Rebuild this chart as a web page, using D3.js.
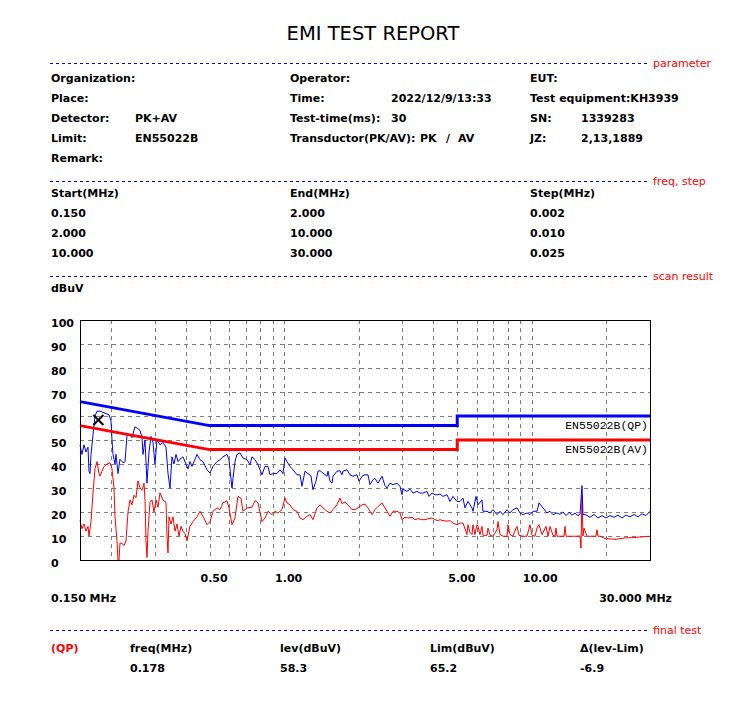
<!DOCTYPE html>
<html><head><meta charset="utf-8">
<script src="https://cdn.jsdelivr.net/npm/d3@7"></script>
<style>body{margin:0;background:#fff}svg{display:block}</style>
</head><body>
<svg id="chart" width="750" height="704"></svg>
<script>
// ---------- data ----------
const qpScan = [[0.15,48],[0.15281,44],[0.15568,48],[0.1586,45],[0.16158,47],[0.16309,37],[0.16461,36],[0.16615,44],[0.16927,52],[0.17244,60],[0.17568,62],[0.18065,62],[0.18575,61.5],[0.19101,61],[0.19641,60.5],[0.20009,58],[0.20196,50],[0.20385,44],[0.20575,42],[0.20767,40],[0.20961,44],[0.21355,36],[0.21755,42],[0.22164,41],[0.22579,40.5],[0.2279,41],[0.23218,52],[0.23875,52],[0.24322,51],[0.2501,55.5],[0.2548,55],[0.262,54],[0.26692,51],[0.26941,44],[0.27447,50],[0.27961,32],[0.28486,45],[0.29021,51.5],[0.29565,49],[0.3012,40],[0.30685,50],[0.31553,48],[0.32445,49],[0.33363,47],[0.33989,36],[0.34627,30],[0.35276,43],[0.35938,40],[0.36613,44],[0.373,41],[0.38,42],[0.39074,43],[0.40179,40],[0.40933,38],[0.41701,41],[0.42483,39],[0.43685,42],[0.44505,44],[0.45763,41.8],[0.47057,41],[0.4884,37.6],[0.50221,36.2],[0.51641,39],[0.53597,41],[0.55113,41.8],[0.56671,43],[0.58818,44],[0.59922,41.8],[0.61616,30],[0.62192,34],[0.63358,41],[0.64547,44],[0.66373,44.6],[0.68249,42.5],[0.70835,41.8],[0.72838,39.7],[0.74205,43],[0.76303,41.8],[0.78461,39.7],[0.81433,35.5],[0.83736,39],[0.86103,39],[0.87719,35.5],[0.902,36],[0.93616,36],[0.96264,37.6],[0.98986,36],[1.00843,42.5],[1.02735,41],[1.05641,39],[1.08628,37.6],[1.12743,35.5],[1.15931,35.5],[1.18107,30.7],[1.21446,37],[1.24881,36],[1.28412,35],[1.30821,29.3],[1.34521,32.8],[1.37045,37],[1.39616,37.2],[1.43564,36.2],[1.49003,34.9],[1.50394,37],[1.5322,32.8],[1.5609,32],[1.5755,34.9],[1.6352,37],[1.6814,37.2],[1.713,35.5],[1.729,37],[1.7945,37.6],[1.8452,35.5],[1.8974,34.9],[1.9693,35.5],[2.0062,32.8],[2.063,34.9],[2.1213,35.5],[2.1812,35.5],[2.2222,31.4],[2.285,33.5],[2.3279,34],[2.3937,32],[2.4844,34.9],[2.5547,31],[2.6026,30],[2.6762,32],[2.7519,31.4],[2.8561,32],[2.9369,30.7],[2.992,27.2],[3.02,29.5],[3.1343,28.6],[3.223,29.5],[3.3141,27.9],[3.4397,28.6],[3.5369,27.9],[3.6369,27.9],[3.7747,28.6],[3.8455,26.5],[3.9543,27.9],[4.0661,27.2],[4.1811,27.2],[4.2595,27.5],[4.38,26.5],[4.5459,27.2],[4.6744,24.4],[4.8066,26.5],[4.9887,24.4],[5.1298,24.4],[5.2748,25.8],[5.3738,21.7],[5.5258,24.4],[5.7351,21.7],[5.7886,20.3],[5.9523,26.5],[6.064,23],[6.2938,25],[6.3525,20.3],[6.5932,20.3],[6.7796,19.6],[6.9713,21],[7.2354,18.9],[7.44,20.3],[7.6504,18.9],[7.9402,21],[8.1648,19.6],[8.3955,21],[8.7136,21.7],[8.96,19.6],[9.2134,18.9],[9.5624,19.6],[9.8329,18.9],[10.111,20.3],[10.494,20.3],[10.691,23.8],[11.096,21.7],[11.516,19.6],[11.842,20.3],[12.177,18.9],[12.638,19.6],[12.995,19],[13.363,20],[13.741,18.5],[14.129,19.8],[14.529,18.7],[14.94,19.5],[15.362,18.5],[15.65,19],[15.944,31],[16.093,19],[16.548,18.8],[17.175,17.8],[17.826,19],[18.501,17.5],[19.202,18.5],[19.929,17.5],[20.684,18.5],[21.467,17.8],[22.281,18.7],[23.125,17.5],[24.0,18.7],[24.91,18],[25.853,19],[26.833,18],[27.849,19.2],[28.904,18.5],[30,20.3]];

const avScan = [[0.15,16.5],[0.15281,13],[0.15568,15],[0.1586,12],[0.16158,14],[0.16309,10],[0.16615,16],[0.16927,28],[0.17244,38],[0.17568,41],[0.17897,36],[0.18065,35],[0.18404,37],[0.18749,39],[0.19279,40],[0.19824,40.5],[0.20196,38],[0.20575,30],[0.20767,18],[0.21157,8],[0.21355,0],[0.21554,0],[0.21755,7],[0.22164,7],[0.22579,6],[0.23003,8],[0.23435,20],[0.23875,25],[0.24322,23],[0.24779,27],[0.25244,26],[0.25718,33],[0.262,30],[0.26692,29],[0.27193,32],[0.27447,25],[0.27703,8],[0.27961,1],[0.28222,12],[0.28752,24],[0.29292,25],[0.29842,20],[0.30402,25],[0.30972,22],[0.31553,28],[0.32445,25],[0.33363,24],[0.33674,10],[0.33989,3],[0.34306,18],[0.3495,15],[0.35606,18],[0.36274,12],[0.36954,15],[0.37648,10],[0.38354,14],[0.39074,12],[0.39807,11],[0.40554,8],[0.41701,14],[0.4288,16],[0.44505,18],[0.45763,20.3],[0.47057,18.2],[0.4884,14.7],[0.50221,16],[0.51641,20.3],[0.53597,21.7],[0.55113,21],[0.56671,23.8],[0.58818,24.7],[0.59922,21.7],[0.61616,14.7],[0.63358,17.5],[0.6515,26.5],[0.66992,25.8],[0.68249,20.3],[0.70835,21.7],[0.74205,22],[0.76303,24.7],[0.78461,23.8],[0.81433,16],[0.83736,17.5],[0.86103,20.3],[0.89365,18.9],[0.91892,20.3],[0.9449,19.6],[0.9807,21],[1.00843,25.8],[1.02735,23.8],[1.05641,23],[1.08628,21],[1.12743,20.3],[1.15931,17.5],[1.19209,16.8],[1.23725,18.2],[1.27224,18.9],[1.30821,16.8],[1.35777,21.7],[1.39616,23],[1.43564,21.7],[1.49003,20.3],[1.5322,19.6],[1.5755,21],[1.6352,23],[1.6814,25.8],[1.713,23.5],[1.7614,24.2],[1.8112,23],[1.8798,21],[1.933,21],[1.9877,21.7],[2.063,23],[2.1213,23.3],[2.1812,21.7],[2.2639,18.9],[2.3279,21],[2.3937,22.3],[2.4844,23.8],[2.5547,21.7],[2.6026,20.3],[2.6762,18.2],[2.7519,20.3],[2.8561,20.3],[2.9369,19.6],[2.992,16.8],[3.0766,17.8],[3.1636,17.5],[3.2834,17.8],[3.3763,16.8],[3.4718,17.2],[3.6033,16.8],[3.7052,16.8],[3.81,17.2],[3.9543,17.5],[4.0661,16.8],[4.1811,16.4],[4.2595,16.8],[4.38,16.4],[4.5459,16.2],[4.6744,16.4],[4.8066,15.4],[4.9887,14.7],[5.1298,15.4],[5.2748,15.4],[5.4746,10.6],[5.5258,14.7],[5.6295,11.5],[5.7351,10.6],[5.7886,14.7],[5.8973,10.6],[6.0079,14.7],[6.064,14],[6.1778,10.6],[6.2938,14],[6.3525,10.3],[6.5932,10.3],[6.6547,13.3],[6.7796,10.3],[6.9713,9.9],[7.2354,12.6],[7.303,16],[7.44,10.6],[7.6504,9.9],[7.9402,9.9],[8.0143,14.7],[8.1648,10.6],[8.3955,9.9],[8.633,13.3],[8.7136,14],[8.8771,10.3],[9.2134,9.9],[9.5624,9.9],[9.8329,14.7],[10.017,10.3],[10.301,9.9],[10.494,13.3],[10.691,14.7],[10.993,10.6],[11.41,14],[11.624,9.9],[11.842,14],[12.177,10.3],[12.405,9.9],[12.521,13.3],[12.638,9.9],[13.488,9.9],[13.614,14],[13.741,9.9],[14.94,9.9],[15.65,10],[15.797,5],[15.944,27],[16.093,10],[16.243,13.3],[16.703,9.9],[18.16,9.9],[18.33,12.6],[18.501,9.9],[18.848,9.9],[19.744,9],[21.668,8.6],[23.778,9.2],[26.095,9.4],[30,9.9]];

const limitQP = [[0.15,66],[0.5,56],[5,56],[5,60],[30,60]];
const limitAV = [[0.15,56],[0.5,46],[5,46],[5,50],[30,50]];
const limitNames = ["EN55022B(QP)", "EN55022B(AV)"];
const yTicks = [0,10,20,30,40,50,60,70,80,90,100];
const xTickValues = [0.5, 1, 5, 10];
const xTickLabels = ["0.50", "1.00", "5.00", "10.00"];
const gridFreqs = [0.2,0.3,0.4,0.5,0.6,0.7,0.8,0.9,1,2,3,4,5,6,7,8,9,10,20];
const marker = {freq: 0.178, level: 58.3};

const paramLeft = [["Organization:",""],["Place:",""],["Detector:","PK+AV"],["Limit:","EN55022B"],["Remark:",""]];
const paramMid = [["Operator:",""],["Time:","2022/12/9/13:33"],["Test-time(ms):","30"]];
const paramRight = [["EUT:",""],["Test equipment:KH3939",""],["SN:","1339283"],["JZ:","2,13,1889"]];
const stepHeaders = ["Start(MHz)","End(MHz)","Step(MHz)"];
const stepRows = [["0.150","2.000","0.002"],["2.000","10.000","0.010"],["10.000","30.000","0.025"]];
const finalHeaders = ["freq(MHz)","lev(dBuV)","Lim(dBuV)","\u0394(lev-Lim)"];
const finalValues = ["0.178","58.3","65.2","-6.9"];
const sections = ["parameter","freq, step","scan result","final test"];

// ---------- drawing ----------
const svg = d3.select("#chart");
const FONT = "'DejaVu Sans', sans-serif";
const BOLD = {"font-family": FONT, "font-size": "11px", "font-weight": "bold", "fill": "#000"};
function txt(x, y, s, attrs = BOLD, anchor = "start") {
  const t = svg.append("text").attr("x", x).attr("y", y).attr("text-anchor", anchor)
    .style("white-space", "pre").text(s);
  for (const k in attrs) t.attr(k, attrs[k]);
  return t;
}

svg.append("rect").attr("width", 750).attr("height", 704).attr("fill", "#fff");

txt(373, 40, "EMI TEST REPORT", {"font-family": FONT, "font-size": "19.5px", "fill": "#000"}, "middle");

// section separators
const sectionY = [63, 181, 276, 630];
sections.forEach((s, i) => {
  svg.append("line").attr("x1", 50).attr("x2", 648).attr("y1", sectionY[i] + 0.5).attr("y2", sectionY[i] + 0.5)
    .attr("stroke", "#0000ff").attr("stroke-width", 1).attr("stroke-dasharray", "3,3");
  txt(653, sectionY[i] + 4, s, {"font-family": FONT, "font-size": "11px", "fill": "#ff0000"});
});

// parameters
paramLeft.forEach((r, i) => { txt(51, 82 + i * 20, r[0]); txt(135, 82 + i * 20, r[1]); });
paramMid.forEach((r, i) => { txt(290, 82 + i * 20, r[0]); txt(391, 82 + i * 20, r[1]); });
txt(290, 142, "Transductor(PK/AV):"); txt(420, 142, "PK"); txt(446, 142, "/"); txt(458, 142, "AV");
paramRight.forEach((r, i) => { txt(530, 82 + i * 20, r[0]); txt(581, 82 + i * 20, r[1]); });

// freq step table
const colX = [51, 290, 530];
stepHeaders.forEach((h, i) => txt(colX[i], 197, h));
stepRows.forEach((r, j) => r.forEach((c, i) => txt(colX[i], 217 + j * 20, c)));

txt(51, 292, "dBuV");

// plot
const x = d3.scaleLog().domain([0.15, 30]).range([80, 650]);
const y = d3.scaleLinear().domain([0, 100]).range([560, 320]);
const px = v => Math.round(x(v)) + 0.5;
const py = v => Math.round(y(v)) + 0.5;

const grid = svg.append("g").attr("stroke", "#808080").attr("stroke-width", 1).attr("stroke-dasharray", "4,4");
yTicks.filter(t => t > 0 && t < 100).forEach(t =>
  grid.append("line").attr("x1", 80).attr("x2", 650).attr("y1", py(t)).attr("y2", py(t)));
gridFreqs.forEach(f =>
  grid.append("line").attr("x1", px(f)).attr("x2", px(f)).attr("y1", 320).attr("y2", 560));

yTicks.forEach(t => txt(51, y(t) + 7, String(t)));
xTickValues.forEach((f, i) => txt(x(f) - 9, 582, xTickLabels[i]));
txt(51, 602, "0.150 MHz");
txt(672, 602, "30.000 MHz", BOLD, "end");

const line = d3.line().x(d => x(d[0])).y(d => y(d[1]));
svg.append("path").datum(avScan).attr("d", line).attr("fill", "none").attr("stroke", "#ff0000").attr("stroke-width", 1);
svg.append("path").datum(qpScan).attr("d", line).attr("fill", "none").attr("stroke", "#0000ff").attr("stroke-width", 1);
svg.append("path").datum(limitQP).attr("d", line).attr("fill", "none").attr("stroke", "#0000ff").attr("stroke-width", 3);
svg.append("path").datum(limitAV).attr("d", line).attr("fill", "none").attr("stroke", "#ff0000").attr("stroke-width", 3);

const monoAttrs = {"font-family": "'Liberation Mono', monospace", "font-size": "11.5px", "fill": "#000"};
txt(648, y(limitQP[4][1]) + 13, limitNames[0], monoAttrs, "end");
txt(648, y(limitAV[4][1]) + 13, limitNames[1], monoAttrs, "end");

// frame
svg.append("rect").attr("x", 80.5).attr("y", 320.5).attr("width", 570).attr("height", 240)
  .attr("fill", "none").attr("stroke", "#000").attr("stroke-width", 1);

// marker
const mx = x(marker.freq), my = y(marker.level);
svg.append("path").attr("d", `M${mx-5},${my-5}L${mx+5},${my+5}M${mx-5},${my+5}L${mx+5},${my-5}`)
  .attr("stroke", "#000").attr("stroke-width", 2).attr("fill", "none");

// final test
txt(51, 652, "(QP)", {"font-family": FONT, "font-size": "11px", "font-weight": "bold", "fill": "#ff0000"});
const finX = [130, 280, 430, 580];
finalHeaders.forEach((h, i) => txt(finX[i], 652, h));
finalValues.forEach((v, i) => txt(finX[i], 672, v));
</script>
</body></html>
